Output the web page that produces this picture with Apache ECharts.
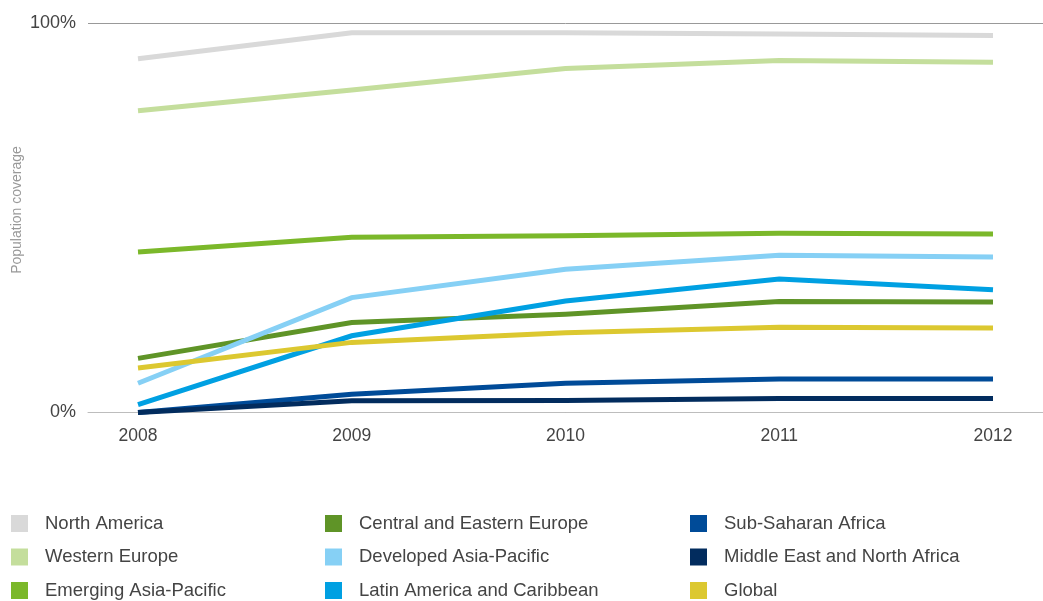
<!DOCTYPE html>
<html>
<head>
<meta charset="utf-8">
<script src="https://cdn.jsdelivr.net/npm/echarts@6/dist/echarts.min.js"></script>
<style>
html,body{margin:0;padding:0;background:#fff;}
#c{width:1043px;height:601px;}
</style>
</head>
<body>
<div id="c"></div>
<script>
const years = [2008, 2009, 2010, 2011, 2012];
const yTicks = [0, 100];
const yAxisTitle = 'Population coverage';

const northAmerica   = [90.8, 97.5, 97.5, 97.2, 96.8];
const westernEurope  = [77.5, 82.8, 88.3, 90.4, 89.9];
const emergingAP     = [41.2, 45.0, 45.4, 46.0, 45.8];
const centralEastEU  = [13.9, 23.1, 25.2, 28.5, 28.4];
const developedAP    = [7.5, 29.5, 36.8, 40.4, 39.9];
const latinAmerica   = [2.0, 19.7, 28.6, 34.3, 31.5];
const subSaharan     = [0.0, 4.7, 7.5, 8.6, 8.6];
const middleEastNA   = [0.0, 3.0, 3.1, 3.6, 3.6];
const globalVals     = [11.4, 18.0, 20.5, 21.9, 21.7];

const seriesDefs = [
  {name: 'North America', data: northAmerica, color: '#d9d9d9'},
  {name: 'Western Europe', data: westernEurope, color: '#c4de9c'},
  {name: 'Emerging Asia-Pacific', data: emergingAP, color: '#7bb82a'},
  {name: 'Central and Eastern Europe', data: centralEastEU, color: '#5f9427'},
  {name: 'Developed Asia-Pacific', data: developedAP, color: '#86d0f5'},
  {name: 'Latin America and Caribbean', data: latinAmerica, color: '#00a0e2'},
  {name: 'Sub-Saharan Africa', data: subSaharan, color: '#004b98'},
  {name: 'Middle East and North Africa', data: middleEastNA, color: '#022c5e'},
  {name: 'Global', data: globalVals, color: '#dcc830'}
];

const FONT = '"Liberation Sans", Arial, sans-serif';
const chart = echarts.init(document.getElementById('c'), null, {renderer: 'canvas'});

function legendCol(names, left) {
  return {
    show: true,
    orient: 'vertical',
    left: left,
    top: 514,
    height: 120,
    icon: 'rect',
    itemWidth: 17,
    itemHeight: 17,
    itemGap: 14.5,
    padding: 0,
    selectedMode: false,
    data: names,
    textStyle: {fontFamily: FONT, fontSize: 18.5, color: '#444', padding: [0, 0, 0, 12]}
  };
}

chart.setOption({
  animation: false,
  backgroundColor: '#fff',
  color: seriesDefs.map(s => s.color),
  grid: {left: 88, right: 0, top: 23, bottom: 601 - 412.5, containLabel: false, outerBoundsMode: 'none'},
  xAxis: {
    type: 'value',
    min: 2008 - 50 / 213.75,
    max: 2012 + 50 / 213.75,
    axisLine: {show: true, lineStyle: {color: '#bdbdbd', width: 1}},
    axisTick: {show: false},
    splitLine: {show: false},
    axisLabel: {
      customValues: years,
      formatter: v => String(v),
      fontFamily: FONT, fontSize: 17.5, color: '#444', margin: 15
    }
  },
  yAxis: {
    type: 'value',
    min: 0,
    max: 100,
    interval: 100,
    axisLine: {show: false},
    axisTick: {show: false},
    axisLabel: {
      customValues: yTicks,
      formatter: v => v + '%',
      fontFamily: FONT, fontSize: 18, color: '#444', margin: 12
    },
    splitLine: {show: true, lineStyle: {color: '#999', width: 1}}
  },
  graphic: [{
    type: 'text',
    x: 17,
    y: 210,
    rotation: Math.PI / 2,
    style: {
      text: yAxisTitle,
      fontFamily: FONT,
      fontSize: 14,
      fill: '#999',
      align: 'center',
      verticalAlign: 'middle'
    }
  }],
  legend: [
    legendCol(seriesDefs.slice(0, 3).map(s => s.name), 11),
    legendCol(seriesDefs.slice(3, 6).map(s => s.name), 325),
    legendCol(seriesDefs.slice(6, 9).map(s => s.name), 690)
  ],
  series: seriesDefs.map(s => ({
    name: s.name,
    type: 'line',
    data: years.map((y, i) => [y, s.data[i]]),
    symbol: 'none',
    smooth: false,
    itemStyle: {color: s.color},
    lineStyle: {color: s.color, width: 5, cap: 'butt', join: 'miter'}
  }))
});
</script>
</body>
</html>
